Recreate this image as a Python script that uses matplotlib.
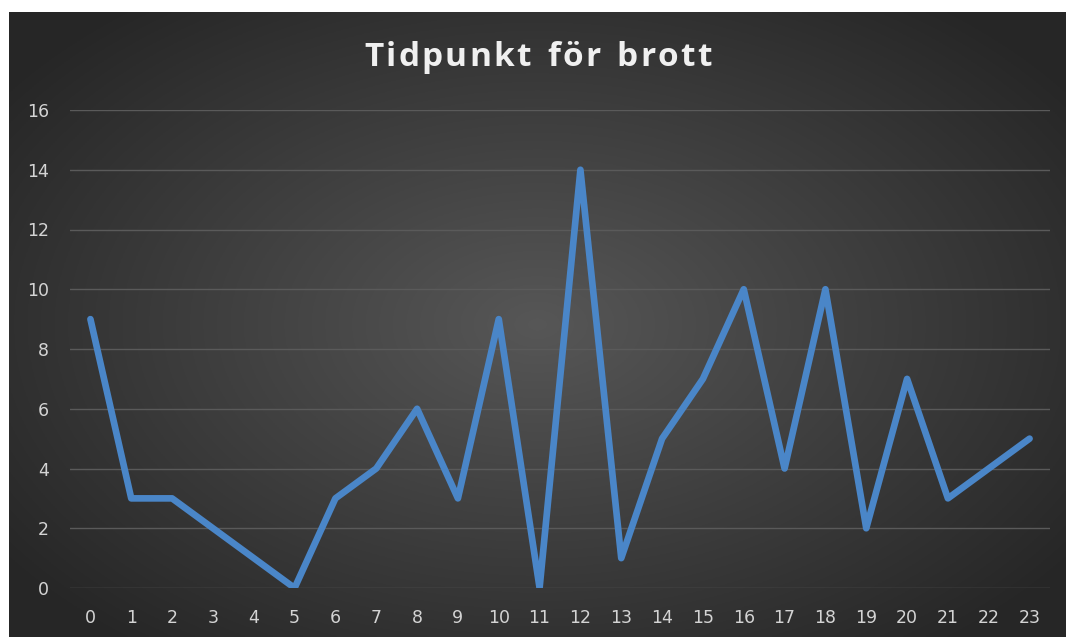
import numpy as np
import matplotlib
matplotlib.use('Agg')
import matplotlib.pyplot as plt

# hour of day and number of crimes
hours = list(range(24))
counts = [9, 3, 3, 2, 1, 0, 3, 4, 6, 3, 9, 0, 14, 1, 5, 7, 10, 4, 10, 2, 7, 3, 4, 5]
yticks = [0, 2, 4, 6, 8, 10, 12, 14, 16]
title = 'Tidpunkt för brott'

W, H = 1066, 637
fig = plt.figure(figsize=(W / 100, H / 100), dpi=100)
fig.patch.set_facecolor('white')

# dark radial gradient background (chart area starts a bit in from the top/left)
bx0, by1 = 9 / W, 1 - 12 / H
bg = fig.add_axes([bx0, 0, 1 - bx0, by1])
bg.axis('off')
yy, xx = np.mgrid[0:1:300j, 0:1:500j]
r = np.sqrt(((xx - 0.5) / 0.85) ** 2 + ((yy - 0.5) / 0.9) ** 2)
shade = np.clip(0.34 - 0.26 * r, 0.15, 0.34)
bg.imshow(np.dstack([shade] * 3), extent=[0, 1, 0, 1], aspect='auto', origin='lower')
bg.set_xlim(0, 1)
bg.set_ylim(0, 1)

ax = fig.add_axes([70 / W, (H - 588) / H, (1050 - 70) / W, (588 - 110) / H])
ax.set_facecolor('none')
ax.plot(hours, counts, color='#4a86c8', linewidth=4.8, solid_joinstyle='round',
        solid_capstyle='round', zorder=3)

ax.set_xlim(-0.5, 23.5)
ax.set_ylim(0, 16)
ax.set_yticks(yticks)
ax.set_xticks(hours)
ax.yaxis.grid(True, color='#5a5a5a', linewidth=1.0)
ax.set_axisbelow(True)
for s in ax.spines.values():
    s.set_visible(False)
ax.tick_params(length=0, colors='#d4d4d4', labelsize=12.5)
ax.tick_params(axis='x', pad=15)
ax.tick_params(axis='y', pad=15)

# title with extra letter spacing, laid out character by character
renderer = fig.canvas.get_renderer()
tkw = dict(fontsize=24, fontweight='bold', color='#f0f0f0', family='Open Sans',
           va='center', ha='left')
spacing = 2.2
widths = []
for ch in title:
    t = fig.text(0, 0, ch if ch != ' ' else 'n', **tkw)
    w = t.get_window_extent(renderer).width
    t.remove()
    widths.append(w * (0.55 if ch == ' ' else 1.0))
total = sum(widths) + spacing * (len(title) - 1)
x = (W - total) / 2 + 5
ty = 1 - 57 / H
for ch, w in zip(title, widths):
    if ch != ' ':
        fig.text(x / W, ty, ch, **tkw)
    x += w + spacing

fig.savefig('out.png', dpi=100, facecolor=fig.get_facecolor())
